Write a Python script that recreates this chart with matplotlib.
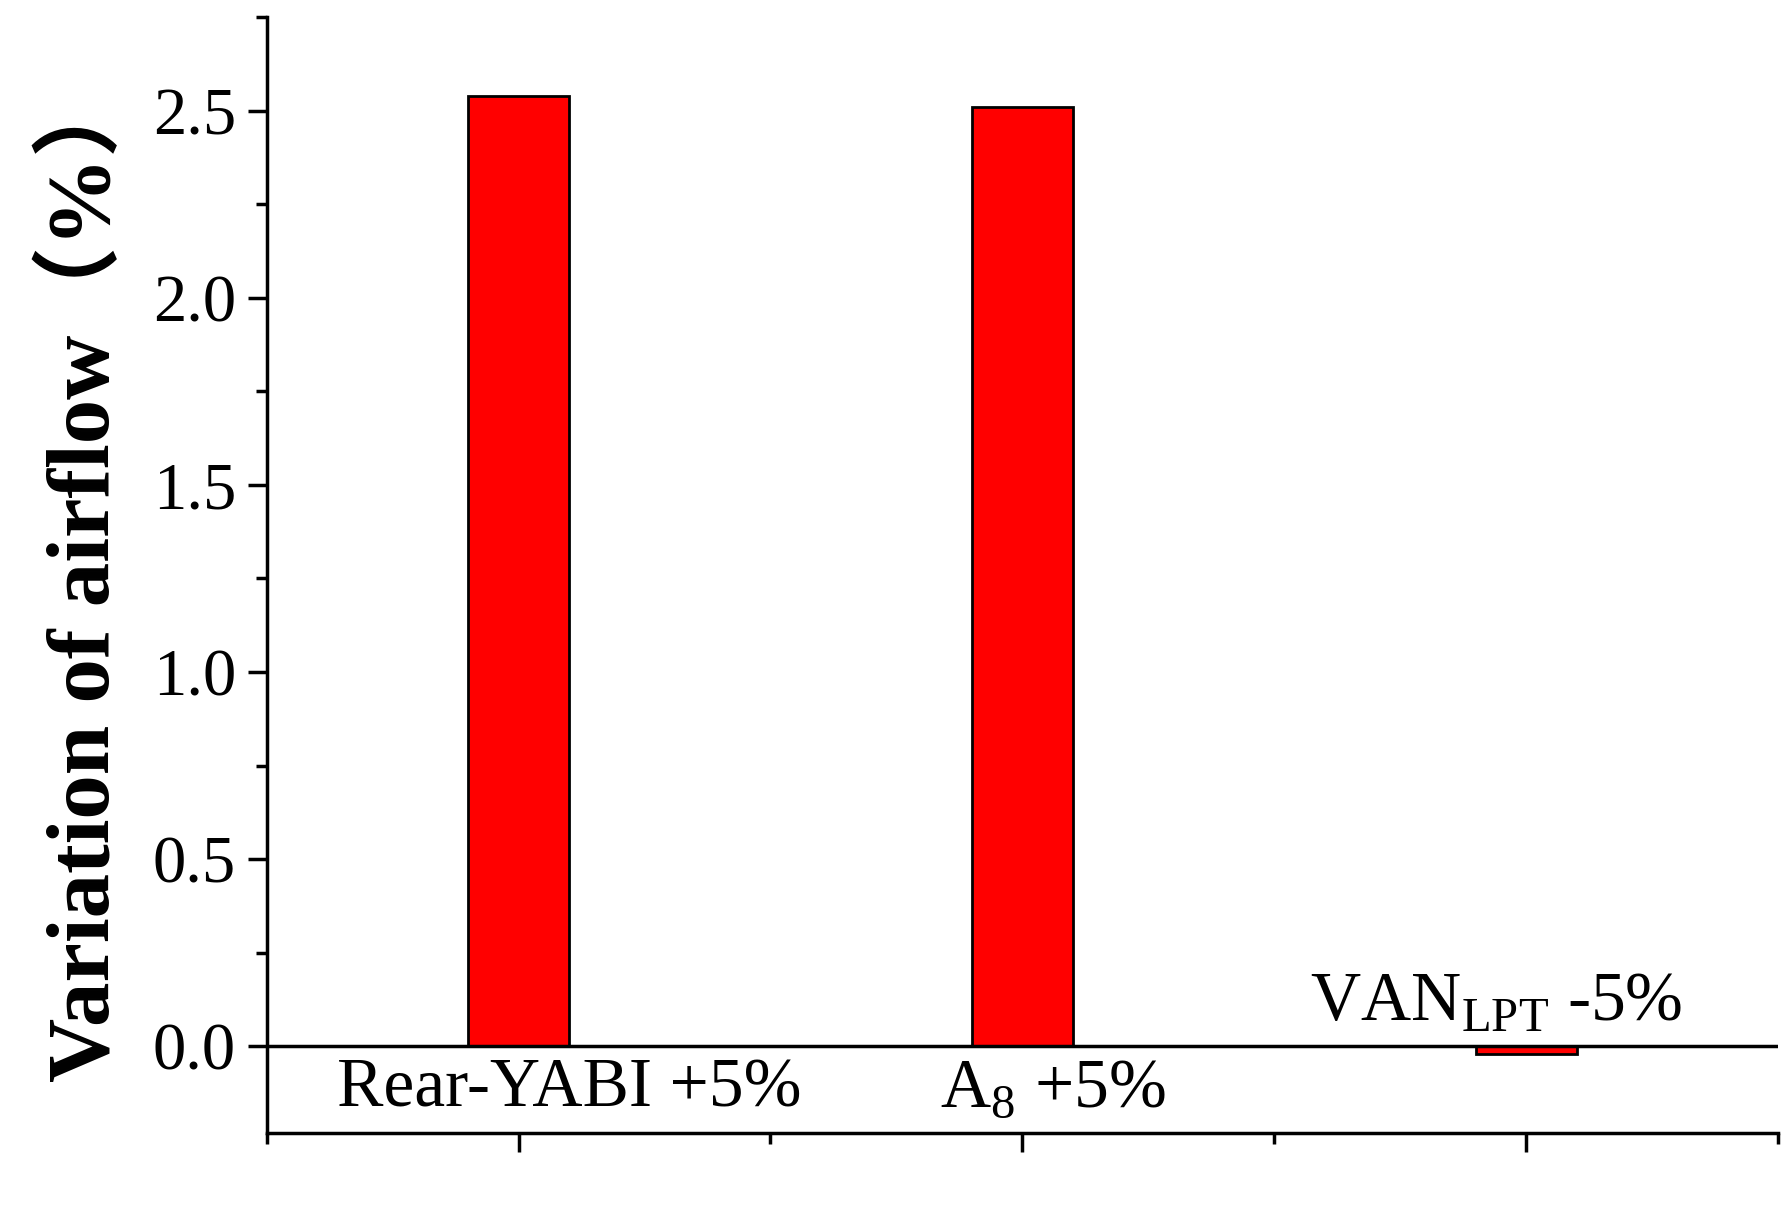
import numpy as np
import matplotlib
matplotlib.use("Agg")
import matplotlib.pyplot as plt
from matplotlib.ticker import MultipleLocator

plt.rcParams["font.family"] = ["Liberation Serif", "DejaVu Serif"]
plt.rcParams["mathtext.fontset"] = "custom"
plt.rcParams["mathtext.rm"] = "Liberation Serif"

# Data
labels = ["Rear-YABI +5%", "A$_8$ +5%", "VAN$_{\\mathrm{LPT}}$ -5%"]
values = [2.54, 2.51, -0.02]

fig = plt.figure(figsize=(17.89, 12.10), dpi=100)
ax = fig.add_axes([0.149, 0.064, 0.845, 0.922])

x = np.arange(1, len(values) + 1)
ax.bar(x, values, 0.2, color="#FF0000", edgecolor="black", linewidth=2, zorder=3)
ax.axhline(0, color="black", linewidth=2.5, zorder=4)

# Category labels near bars
ax.text(1.1, -0.03, labels[0], ha="center", va="top", fontsize=50, zorder=5)
ax.text(2.06, -0.03, labels[1], ha="center", va="top", fontsize=50, zorder=5)
ax.text(2.94, 0.03, labels[2], ha="center", va="bottom", fontsize=50, zorder=5)

ax.set_xlim(0.5, 3.5)
ax.set_ylim(-0.23, 2.75)
ax.set_xticks(x)
ax.set_xticklabels([])
ax.xaxis.set_minor_locator(MultipleLocator(0.5))
ax.yaxis.set_minor_locator(MultipleLocator(0.25))
ax.set_yticks([0, 0.5, 1.0, 1.5, 2.0, 2.5])
ax.set_yticklabels(["0.0", "0.5", "1.0", "1.5", "2.0", "2.5"])
ax.tick_params(axis="both", which="major", direction="out", length=14, width=2.5, labelsize=48, pad=8)
ax.tick_params(axis="both", which="minor", direction="out", length=8, width=2.5)

for s in ["top", "right"]:
    ax.spines[s].set_visible(False)
for s in ["left", "bottom"]:
    ax.spines[s].set_linewidth(2.5)

ax.set_ylabel("Variation of airflow（%）", fontsize=64, fontweight="bold",
              family=["Liberation Serif", "Noto Sans CJK SC"], labelpad=18)

fig.savefig("out.png", dpi=100)
